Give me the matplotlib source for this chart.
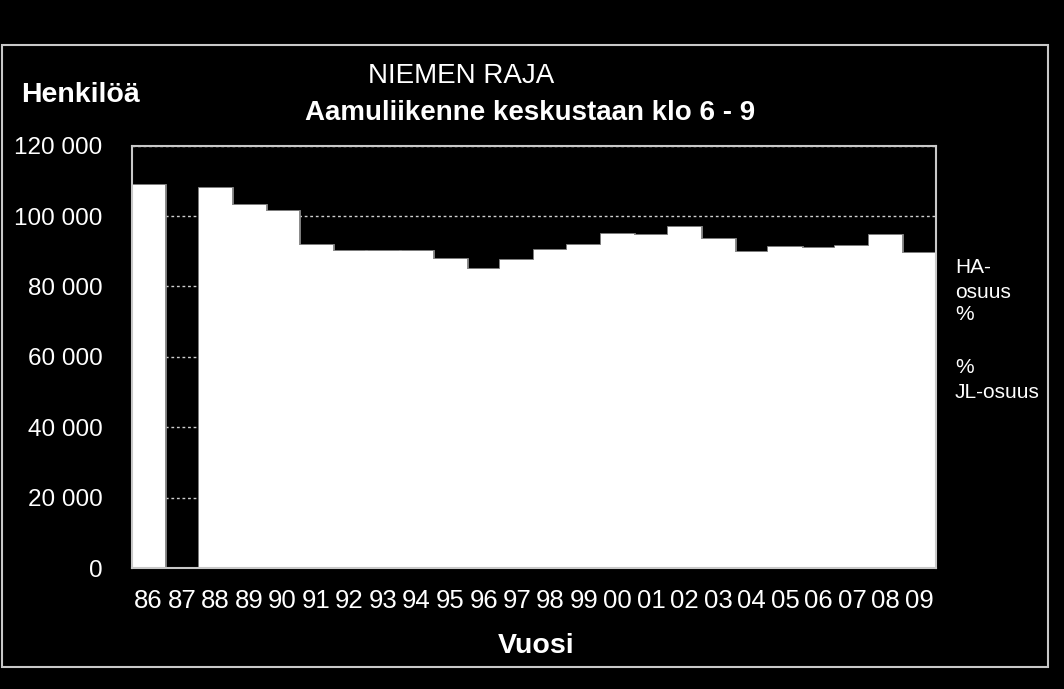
import matplotlib.pyplot as plt
from matplotlib.patches import Rectangle
from matplotlib.ticker import FuncFormatter

# Niemen raja, aamuliikenne keskustaan klo 6-9 (henkilöä)
years = ['86', '87', '88', '89', '90', '91', '92', '93', '94', '95', '96', '97',
         '98', '99', '00', '01', '02', '03', '04', '05', '06', '07', '08', '09']
persons = [108700, 0, 108000, 103200, 101500, 91800, 90100, 90100, 90100, 87900,
           85000, 87400, 90400, 91800, 95000, 94700, 96900, 93500, 89900, 91200,
           90900, 91500, 94700, 89600]
yticks = [0, 20000, 40000, 60000, 80000, 100000, 120000]

fonts = ['Liberation Sans', 'DejaVu Sans']
border = '#c8c8c8'

fig = plt.figure(figsize=(10.64, 6.89), dpi=100, facecolor='black')
ax = fig.add_axes([0.1238, 0.1756, 0.7559, 0.6129])
ax.set_facecolor('black')

x = range(len(years))
# gray outline first, then white fill on top so only the outer edge shows
ax.bar(x, persons, width=1.0, color='#8c8c8c', edgecolor='#8c8c8c', linewidth=2, zorder=3)
ax.bar(x, persons, width=1.0, color='white', linewidth=0, zorder=4)

ax.set_xlim(-0.5, len(years) - 0.5)
ax.set_ylim(0, 120000)
ax.set_yticks(yticks)
ax.yaxis.set_major_formatter(FuncFormatter(lambda v, p: f'{int(v):,}'.replace(',', ' ')))
ax.set_xticks(list(x))
ax.set_xticklabels(years)

ax.grid(axis='y', color='#d0d0d0', linestyle=(0, (2, 2)), linewidth=1, zorder=0)
ax.tick_params(axis='y', length=0, pad=21, colors='white', labelsize=17.5)
ax.tick_params(axis='x', length=0, pad=15, colors='white', labelsize=18.5)
for lab in ax.get_xticklabels() + ax.get_yticklabels():
    lab.set_family(fonts)
for sp in ax.spines.values():
    sp.set_color(border)
    sp.set_linewidth(1.5)
    sp.set_zorder(5)

# outer frame
fig.patches.append(Rectangle((2 / 1064, 22 / 689), 1046 / 1064, 622 / 689,
                             transform=fig.transFigure, fill=False,
                             edgecolor=border, linewidth=1.5))

fig.text(21 / 1064, (689 - 102) / 689, 'Henkilöä', color='white', fontsize=20.5,
         fontweight='bold', family=fonts, ha='left', va='baseline')
fig.text(461 / 1064, (689 - 83) / 689, 'NIEMEN RAJA', color='white', fontsize=20,
         family=fonts, ha='center', va='baseline')
fig.text(530 / 1064, (689 - 120) / 689, 'Aamuliikenne keskustaan klo 6 - 9', color='white',
         fontsize=20, fontweight='bold', family=fonts, ha='center', va='baseline')
fig.text(536 / 1064, (689 - 653) / 689, 'Vuosi', color='white', fontsize=20.5,
         fontweight='bold', family=fonts, ha='center', va='baseline')

right_lines = [('HA-', 273), ('osuus', 298), ('%', 320), ('%', 373), ('JL-osuus', 398)]
for txt, base in right_lines:
    fig.text(955 / 1064, (689 - base) / 689, txt, color='white', fontsize=15,
             family=fonts, ha='left', va='baseline')

fig.savefig('out.png', dpi=100, facecolor='black')
